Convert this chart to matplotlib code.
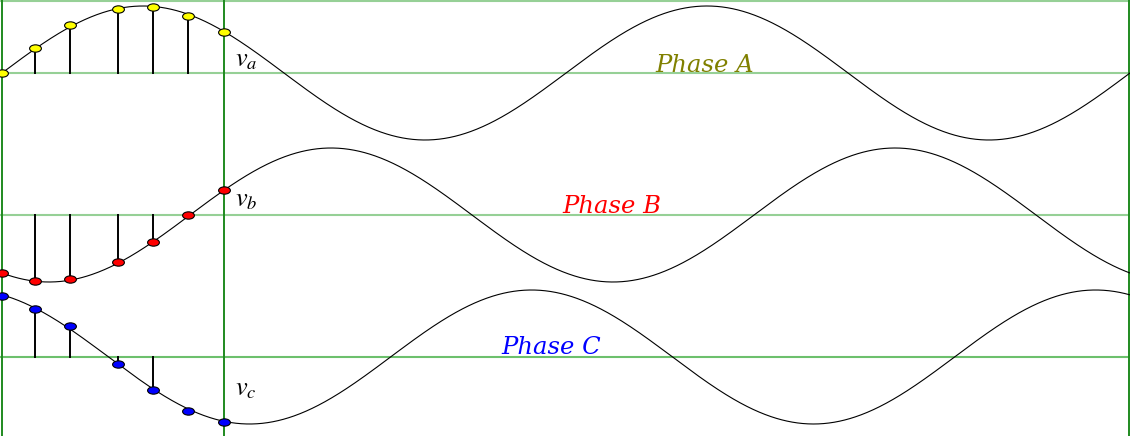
import numpy as np
import matplotlib.pyplot as plt
from matplotlib.path import Path
from matplotlib.transforms import Affine2D

plt.rcParams["mathtext.fontset"] = "stix"

# sample instants (electrical degrees) and sampled values, amplitude = 1
sample_deg = [0.0, 21.3, 43.6, 73.8, 96.1, 118.9, 141.7]
va_samples = [0.0, 0.375, 0.71, 0.95, 0.985, 0.85, 0.61]
vb_samples = [-0.866, -0.99, -0.95, -0.706, -0.41, 0.0, 0.375]
vc_samples = [0.91, 0.72, 0.46, -0.10, -0.50, -0.80, -0.97]

# which samples get a stem line
stem_a = [False, True, True, True, True, True, False]
stem_b = [False, True, True, True, True, False, False]
stem_c = [False, True, True, True, True, False, False]

# continuous waves: phase shift in degrees
phase_deg = {"a": 0.0, "b": -120.0, "c": 112.0}
phase_names = ["Phase A", "Phase B", "Phase C"]
phase_colors = ["#808000", "#ff0000", "#0000ff"]
marker_colors = ["#ffff00", "#ff0000", "#0000ff"]

W, H = 1130, 436
AMP_PX = 67.0          # amplitude in pixels
X0_PX, PERIOD_PX = 2.0, 564.0
axis_px = [73, 215, 357]


def px_x(px):
    return (px - X0_PX) * 360.0 / PERIOD_PX


def px_y(py):
    return (axis_px[0] - py) / AMP_PX


offsets = [px_y(p) for p in axis_px]

fig = plt.figure(figsize=(W / 100, H / 100), dpi=100)
ax = fig.add_axes([0, 0, 1, 1])
ax.set_xlim(px_x(0), px_x(W))
ax.set_ylim(px_y(H), px_y(0))
ax.axis("off")

# green reference lines
light_green = ["#96d096", "#96d096", "#6cc06c"]
for off, c in zip(offsets, light_green):
    ax.axhline(off, color=c, lw=1.5, zorder=1)
ax.axhline(px_y(1), color="#96d096", lw=1.5, zorder=1)
for xp in [2, 224, 1129]:
    ax.axvline(px_x(xp), color="#1f8a1f", lw=1.4, zorder=2)

# ellipse marker
ell = Path.unit_circle().transformed(Affine2D().scale(1.0, 0.62))

theta = np.linspace(0, 720, 1500)
samples = [va_samples, vb_samples, vc_samples]
stems = [stem_a, stem_b, stem_c]
for i, key in enumerate(["a", "b", "c"]):
    off = offsets[i]
    ax.plot(theta, off + np.sin(np.radians(theta + phase_deg[key])),
            color="black", lw=0.8, zorder=3)
    for d, v, s in zip(sample_deg, samples[i], stems[i]):
        if s:
            ax.plot([d, d], [off, off + v], color="black", lw=1.4, zorder=4)
    ax.plot(sample_deg, [off + v for v in samples[i]], ls="none",
            marker=ell, ms=8.5, mfc=marker_colors[i], mec="black", mew=0.8,
            zorder=5)
    ax.text(px_x(235), px_y([66, 206, 395][i]), "$v_%s$" % key,
            fontsize=19, ha="left", va="baseline", zorder=6)

name_pos = [(655, 72), (562, 213), (501, 354)]
for (xp, yp), name, c in zip(name_pos, phase_names, phase_colors):
    ax.text(px_x(xp), px_y(yp), name, color=c, fontsize=17.5,
            family="DejaVu Serif", style="italic", ha="left", va="baseline",
            zorder=6)

fig.savefig("out.png", dpi=100)
